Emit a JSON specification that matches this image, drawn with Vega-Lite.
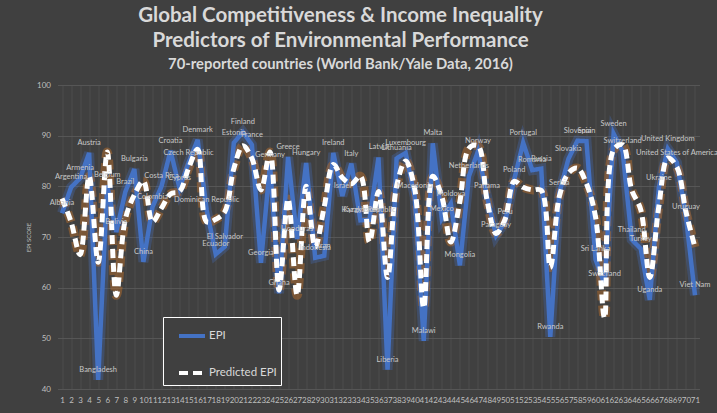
{
  "$schema": "https://vega.github.io/schema/vega-lite/v6.json",
  "width": 642,
  "height": 304,
  "autosize": {"type": "none"},
  "padding": {"left": 57.5, "top": 85, "right": 17.5, "bottom": 24},
  "background": "#404040",
  "config": {"view": {"stroke": null}, "font": "Lato"},
  "title": {
    "text": ["Global Competitiveness & Income Inequality", "Predictors of Environmental Performance"],
    "subtitle": "70-reported countries (World Bank/Yale Data, 2016)",
    "anchor": "middle",
    "frame": "group",
    "dx": -38,
    "offset": 9,
    "font": "Lato",
    "fontSize": 20.5,
    "fontWeight": "bold",
    "color": "#d9d9d9",
    "lineHeight": 25,
    "subtitleFont": "Lato",
    "subtitleFontSize": 14.8,
    "subtitleFontWeight": "bold",
    "subtitleColor": "#d9d9d9",
    "subtitlePadding": 6
  },
  "data": {
    "values": [
      {"n": 1, "country": "Albania", "EPI": 74.7, "Predicted EPI": 77.6},
      {"n": 2, "country": "Argentina", "EPI": 79.8, "Predicted EPI": 73.0},
      {"n": 3, "country": "Armenia", "EPI": 81.6, "Predicted EPI": 66.5},
      {"n": 4, "country": "Austria", "EPI": 86.6, "Predicted EPI": 82.0},
      {"n": 5, "country": "Bangladesh", "EPI": 41.8, "Predicted EPI": 65.0},
      {"n": 6, "country": "Belgium", "EPI": 80.2, "Predicted EPI": 86.8},
      {"n": 7, "country": "Bolivia", "EPI": 71.0, "Predicted EPI": 58.5},
      {"n": 8, "country": "Brazil", "EPI": 78.9, "Predicted EPI": 73.5},
      {"n": 9, "country": "Bulgaria", "EPI": 83.4, "Predicted EPI": 78.3},
      {"n": 10, "country": "China", "EPI": 65.1, "Predicted EPI": 81.0},
      {"n": 11, "country": "Colombia", "EPI": 75.9, "Predicted EPI": 73.0},
      {"n": 12, "country": "Costa Rica", "EPI": 80.0, "Predicted EPI": 75.7},
      {"n": 13, "country": "Croatia", "EPI": 87.0, "Predicted EPI": 78.5},
      {"n": 14, "country": "Cyprus", "EPI": 79.6, "Predicted EPI": 79.0},
      {"n": 15, "country": "Czech Republic", "EPI": 84.7, "Predicted EPI": 83.6},
      {"n": 16, "country": "Denmark", "EPI": 89.2, "Predicted EPI": 87.3},
      {"n": 17, "country": "Dominican Republic", "EPI": 75.3, "Predicted EPI": 73.0},
      {"n": 18, "country": "Ecuador", "EPI": 66.6, "Predicted EPI": 73.5},
      {"n": 19, "country": "El Salvador", "EPI": 68.1, "Predicted EPI": 75.0},
      {"n": 20, "country": "Estonia", "EPI": 88.6, "Predicted EPI": 83.5},
      {"n": 21, "country": "Finland", "EPI": 90.7, "Predicted EPI": 88.0},
      {"n": 22, "country": "France", "EPI": 88.2, "Predicted EPI": 85.5},
      {"n": 23, "country": "Georgia", "EPI": 64.9, "Predicted EPI": 79.3},
      {"n": 24, "country": "Germany", "EPI": 84.3, "Predicted EPI": 86.8},
      {"n": 25, "country": "Ghana", "EPI": 58.9, "Predicted EPI": 59.5},
      {"n": 26, "country": "Greece", "EPI": 85.8, "Predicted EPI": 77.5},
      {"n": 27, "country": "Honduras", "EPI": 69.6, "Predicted EPI": 58.5},
      {"n": 28, "country": "Hungary", "EPI": 84.6, "Predicted EPI": 80.0},
      {"n": 29, "country": "Indonesia", "EPI": 65.9, "Predicted EPI": 68.0},
      {"n": 30, "country": "Iran", "EPI": 66.3, "Predicted EPI": 76.0},
      {"n": 31, "country": "Ireland", "EPI": 86.6, "Predicted EPI": 84.3},
      {"n": 32, "country": "Israel", "EPI": 78.1, "Predicted EPI": 81.7},
      {"n": 33, "country": "Italy", "EPI": 84.5, "Predicted EPI": 80.5},
      {"n": 34, "country": "Kazakhstan", "EPI": 73.3, "Predicted EPI": 82.0},
      {"n": 35, "country": "Kyrgyz Republic", "EPI": 73.4, "Predicted EPI": 69.0},
      {"n": 36, "country": "Latvia", "EPI": 85.7, "Predicted EPI": 79.0},
      {"n": 37, "country": "Liberia", "EPI": 43.8, "Predicted EPI": 62.0},
      {"n": 38, "country": "Lithuania", "EPI": 85.5, "Predicted EPI": 80.0},
      {"n": 39, "country": "Luxembourg", "EPI": 86.6, "Predicted EPI": 85.0},
      {"n": 40, "country": "Macedonia", "EPI": 78.0, "Predicted EPI": 79.5},
      {"n": 41, "country": "Malawi", "EPI": 49.5, "Predicted EPI": 56.0},
      {"n": 42, "country": "Malta", "EPI": 88.5, "Predicted EPI": 82.0},
      {"n": 43, "country": "Mexico", "EPI": 73.6, "Predicted EPI": 78.0},
      {"n": 44, "country": "Moldova", "EPI": 76.6, "Predicted EPI": 69.0},
      {"n": 45, "country": "Mongolia", "EPI": 64.4, "Predicted EPI": 77.0},
      {"n": 46, "country": "Netherlands", "EPI": 82.0, "Predicted EPI": 87.5},
      {"n": 47, "country": "Norway", "EPI": 86.9, "Predicted EPI": 88.0},
      {"n": 48, "country": "Panama", "EPI": 78.0, "Predicted EPI": 77.3},
      {"n": 49, "country": "Paraguay", "EPI": 70.3, "Predicted EPI": 70.7},
      {"n": 50, "country": "Peru", "EPI": 73.0, "Predicted EPI": 73.5},
      {"n": 51, "country": "Poland", "EPI": 81.3, "Predicted EPI": 81.0},
      {"n": 52, "country": "Portugal", "EPI": 88.6, "Predicted EPI": 79.8},
      {"n": 53, "country": "Romania", "EPI": 83.2, "Predicted EPI": 79.3},
      {"n": 54, "country": "Russia", "EPI": 83.5, "Predicted EPI": 79.2},
      {"n": 55, "country": "Rwanda", "EPI": 50.3, "Predicted EPI": 64.0},
      {"n": 56, "country": "Serbia", "EPI": 78.7, "Predicted EPI": 78.0},
      {"n": 57, "country": "Slovakia", "EPI": 85.4, "Predicted EPI": 82.6},
      {"n": 58, "country": "Slovenia", "EPI": 89.0, "Predicted EPI": 83.6},
      {"n": 59, "country": "Spain", "EPI": 88.9, "Predicted EPI": 80.5},
      {"n": 60, "country": "Sri Lanka", "EPI": 65.6, "Predicted EPI": 74.0},
      {"n": 61, "country": "Swaziland", "EPI": 60.7, "Predicted EPI": 54.0},
      {"n": 62, "country": "Sweden", "EPI": 90.4, "Predicted EPI": 87.2},
      {"n": 63, "country": "Switzerland", "EPI": 86.9, "Predicted EPI": 88.2},
      {"n": 64, "country": "Thailand", "EPI": 69.5, "Predicted EPI": 79.3},
      {"n": 65, "country": "Turkey", "EPI": 67.7, "Predicted EPI": 75.4},
      {"n": 66, "country": "Uganda", "EPI": 57.6, "Predicted EPI": 62.0},
      {"n": 67, "country": "Ukraine", "EPI": 79.7, "Predicted EPI": 76.0},
      {"n": 68, "country": "United Kingdom", "EPI": 87.4, "Predicted EPI": 85.6},
      {"n": 69, "country": "United States of America", "EPI": 84.7, "Predicted EPI": 83.8},
      {"n": 70, "country": "Uruguay", "EPI": 74.0, "Predicted EPI": 75.0},
      {"n": 71, "country": "Viet Nam", "EPI": 58.5, "Predicted EPI": 68.0}
    ]
  },
  "transform": [{"fold": ["EPI", "Predicted EPI"], "as": ["series", "value"]}],
  "encoding": {
    "x": {
      "field": "n",
      "type": "ordinal",
      "scale": {"type": "point", "padding": 0.5},
      "axis": {
        "title": null,
        "labelAngle": 0,
        "labelFontSize": 8,
        "labelColor": "#bfbfbf",
        "labelPadding": 7,
        "domain": false,
        "ticks": false,
        "grid": true,
        "gridColor": "#555555",
        "gridWidth": 0.6
      }
    },
    "y": {
      "field": "value",
      "type": "quantitative",
      "scale": {"domain": [40, 100], "nice": false, "zero": false},
      "axis": {
        "title": "EPI SCORE",
        "titleFontSize": 6,
        "titleColor": "#bfbfbf",
        "titleFontWeight": "normal",
        "titlePadding": 5,
        "values": [40, 50, 60, 70, 80, 90, 100],
        "labelFontSize": 8,
        "labelColor": "#bfbfbf",
        "labelPadding": 7,
        "domain": false,
        "ticks": false,
        "gridColor": "#5c5c5c",
        "gridWidth": 0.8
      }
    }
  },
  "layer": [
    {
      "transform": [{"filter": "datum.series === 'EPI'"}],
      "mark": {"type": "line", "color": "#4472C4", "strokeWidth": 10, "opacity": 0.3, "interpolate": "linear"},
      "encoding": {}
    },
    {
      "transform": [{"filter": "datum.series === 'Predicted EPI'"}],
      "mark": {"type": "line", "color": "#c0702a", "strokeWidth": 9, "opacity": 0.45, "strokeDash": [10, 5], "interpolate": "catmull-rom"},
      "encoding": {}
    },
    {
      "transform": [{"filter": "datum.series === 'EPI'"}],
      "mark": {"type": "line", "strokeWidth": 4.5, "interpolate": "linear"},
      "encoding": {
        "color": {
          "field": "series",
          "type": "nominal",
          "scale": {"domain": ["EPI", "Predicted EPI"], "range": ["#4472C4", "#ffffff"]},
          "legend": {
            "title": null,
            "orient": "none",
            "legendX": 105.5,
            "legendY": 232,
            "direction": "vertical",
            "strokeColor": "#ffffff",
            "fillColor": "#404040",
            "padding": 4,
            "symbolOffset": 10,
            "rowPadding": 14,
            "labelFontSize": 11.5,
            "labelColor": "#d9d9d9",
            "labelOffset": 2,
            "symbolType": "stroke",
            "symbolStrokeWidth": 4,
            "symbolSize": 676
          }
        },
        "strokeDash": {
          "field": "series",
          "type": "nominal",
          "scale": {"domain": ["EPI", "Predicted EPI"], "range": [[1, 0], [9, 5]]},
          "legend": {
            "title": null,
            "orient": "none",
            "legendX": 105.5,
            "legendY": 232,
            "direction": "vertical",
            "strokeColor": "#ffffff",
            "fillColor": "#404040",
            "padding": 4,
            "symbolOffset": 10,
            "rowPadding": 14,
            "labelFontSize": 11.5,
            "labelColor": "#d9d9d9",
            "labelOffset": 2,
            "symbolType": "stroke",
            "symbolStrokeWidth": 4,
            "symbolSize": 676
          }
        }
      }
    },
    {
      "transform": [{"filter": "datum.series === 'Predicted EPI'"}],
      "mark": {"type": "line", "strokeWidth": 5, "interpolate": "catmull-rom"},
      "encoding": {
        "color": {"field": "series", "type": "nominal"},
        "strokeDash": {"field": "series", "type": "nominal"}
      }
    },
    {
      "transform": [{"filter": "datum.series === 'EPI'"}],
      "mark": {"type": "text", "dy": -10, "fontSize": 7.5, "color": "#c8c8c8", "font": "Lato"},
      "encoding": {"text": {"field": "country", "type": "nominal"}}
    }
  ]
}
